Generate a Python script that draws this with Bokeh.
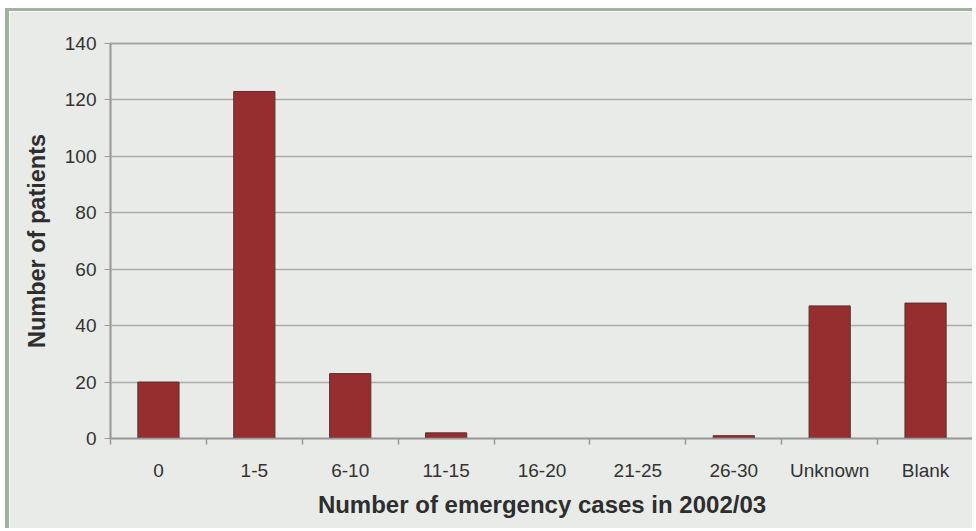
from bokeh.plotting import figure
from bokeh.models import Range1d, FixedTicker, ColumnDataSource
from bokeh.embed import file_html
from bokeh.resources import INLINE

categories = ["0", "1-5", "6-10", "11-15", "16-20", "21-25", "26-30", "Unknown", "Blank"]
patients = [20, 123, 23, 2, 0, 0, 1, 47, 48]
y_ticks = [0, 20, 40, 60, 80, 100, 120, 140]

centers = [i + 0.5 for i in range(len(categories))]
bounds = list(range(len(categories) + 1))

source = ColumnDataSource(data=dict(x=centers, top=patients, cat=categories))

BG = "#e9ebe9"
FONT = "Liberation Sans"

p = figure(width=967, height=520, output_backend="svg", toolbar_location=None,
           x_range=Range1d(0, len(categories)), y_range=Range1d(0, 140),
           min_border_left=101, min_border_right=3, min_border_top=32, min_border_bottom=93)
p.margin = (8, 0, 0, 5)
p.styles = {"border-left": "4px solid #9fb39f", "border-top": "3px solid #9fb39f"}

p.background_fill_color = BG
p.border_fill_color = BG
p.outline_line_color = "#a3a3a3"
p.outline_line_width = 2

p.vbar(x="x", top="top", width=0.43, source=source,
       fill_color="#962d2f", line_color="#5a3333", line_width=1)

# grid
p.xgrid.grid_line_color = None
p.ygrid.grid_line_color = "#ababab"
p.ygrid.grid_line_width = 1.5
p.ygrid.ticker = FixedTicker(ticks=y_ticks)

# y axis
ya = p.yaxis[0]
ya.ticker = FixedTicker(ticks=y_ticks)
ya.axis_line_color = "#9a9a9a"
ya.axis_line_width = 1.5
ya.major_tick_line_color = "#9a9a9a"
ya.major_tick_out = 6
ya.major_tick_in = 0
ya.minor_tick_line_color = None
ya.major_label_text_font = FONT
ya.major_label_text_font_size = "19px"
ya.major_label_text_color = "#333333"
ya.major_label_standoff = 8
ya.axis_label = "Number of patients"
ya.axis_label_text_font = FONT
ya.axis_label_text_font_size = "23.5px"
ya.axis_label_text_font_style = "bold"
ya.axis_label_text_color = "#2e2e2e"
ya.axis_label_standoff = 12

# x axis
xa = p.xaxis[0]
xa.ticker = FixedTicker(ticks=centers, minor_ticks=bounds)
xa.major_label_overrides = {c: lab for c, lab in zip(centers, categories)}
xa.axis_line_color = "#9a9a9a"
xa.axis_line_width = 1.5
xa.major_tick_out = 0
xa.major_tick_in = 0
xa.major_tick_line_color = None
xa.minor_tick_line_color = "#9a9a9a"
xa.minor_tick_line_width = 1.5
xa.minor_tick_out = 6
xa.minor_tick_in = 0
xa.major_label_text_font = FONT
xa.major_label_text_font_size = "19px"
xa.major_label_text_color = "#333333"
xa.major_label_standoff = 15
xa.axis_label = "Number of emergency cases in 2002/03"
xa.axis_label_text_font = FONT
xa.axis_label_text_font_size = "24px"
xa.axis_label_text_font_style = "bold"
xa.axis_label_text_color = "#2e2e2e"
xa.axis_label_standoff = 7

open("out.html", "w").write(file_html(p, INLINE))
